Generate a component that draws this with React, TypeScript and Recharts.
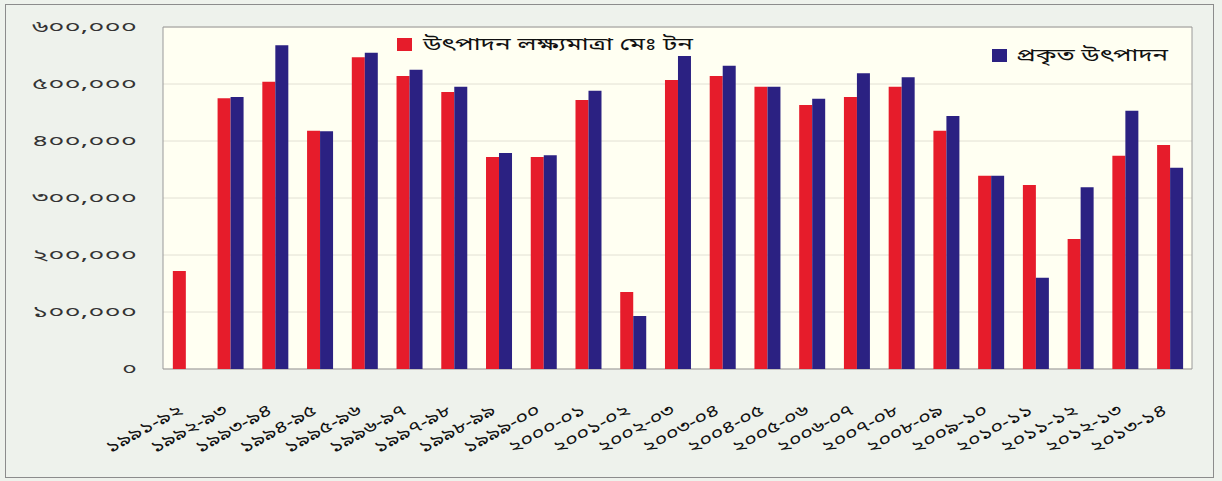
import React from "react";
import {
  BarChart,
  Bar,
  XAxis,
  YAxis,
  CartesianGrid,
  ReferenceArea,
} from "recharts";

const categories = [
  "১৯৯১-৯২", "১৯৯২-৯৩", "১৯৯৩-৯৪", "১৯৯৪-৯৫", "১৯৯৫-৯৬", "১৯৯৬-৯৭",
  "১৯৯৭-৯৮", "১৯৯৮-৯৯", "১৯৯৯-০০", "২০০০-০১", "২০০১-০২", "২০০২-০৩",
  "২০০৩-০৪", "২০০৪-০৫", "২০০৫-০৬", "২০০৬-০৭", "২০০৭-০৮", "২০০৮-০৯",
  "২০০৯-১০", "২০১০-১১", "২০১১-১২", "২০১২-১৩", "২০১৩-১৪",
];

// উৎপাদন লক্ষ্যমাত্রা (red)
const targetValues = [
  172000, 475000, 504000, 418000, 547000, 514000, 486000, 372000, 372000,
  472000, 135000, 507000, 514000, 495000, 463000, 477000, 495000, 418000,
  339000, 323000, 228000, 374000, 393000,
];

// প্রকৃত উৎপাদন (blue)
const actualValues = [
  0, 477000, 568000, 417000, 555000, 525000, 495000, 379000, 375000,
  488000, 93000, 549000, 532000, 495000, 474000, 519000, 512000, 444000,
  339000, 160000, 319000, 453000, 353000,
];

const yTicks = [0, 100000, 200000, 300000, 400000, 500000, 600000];

const seriesNames = ["উৎপাদন লক্ষ্যমাত্রা মেঃ টন", "প্রকৃত উৎপাদন"];
const seriesColors = ["#e61c2b", "#2b2182"];

const bnDigits = ["০", "১", "২", "৩", "৪", "৫", "৬", "৭", "৮", "৯"];
const toBn = (v: number) =>
  v
    .toLocaleString("en-US")
    .replace(/[0-9]/g, (d) => bnDigits[Number(d)]);

const data = categories.map((name, i) => ({
  name,
  target: targetValues[i],
  actual: actualValues[i],
}));

const FONT = "'Noto Sans Bengali', 'Lohit Bengali', 'Noto Sans', sans-serif";

const XTick = (props: any) => {
  const { x, y, payload } = props;
  return (
    <g transform={`translate(${x - 2},${y + 36})`}>
      <text
        textAnchor="end"
        transform="rotate(-29)"
        fontSize={17}
        fill="#111"
        fontFamily={FONT}
        textLength={84}
        lengthAdjust="spacingAndGlyphs"
      >
        {payload.value}
      </text>
    </g>
  );
};

const YTick = (props: any) => {
  const { x, y, payload } = props;
  const label = toBn(payload.value);
  return (
    <text
      x={x}
      y={y}
      dy={5}
      textAnchor="end"
      fontSize={16}
      fill="#333"
      fontFamily={FONT}
      textLength={label.length * 15}
      lengthAdjust="spacingAndGlyphs"
    >
      {label}
    </text>
  );
};

const App = () => {
  return (
    <div
      style={{
        position: "absolute",
        left: 0,
        top: 0,
        width: 1222,
        height: 481,
        background: "#eef2ec",
        fontFamily: FONT,
      }}
    >
      <div
        style={{
          position: "absolute",
          left: 5,
          top: 4,
          right: 8,
          bottom: 3,
          border: "1px solid #8c8c8c",
        }}
      />
      <BarChart
        width={1222}
        height={481}
        data={data}
        margin={{ top: 27, right: 30, bottom: 12, left: 0 }}
        barCategoryGap="22%"
        barGap={0}
      >
        <CartesianGrid vertical={false} stroke="#e2e0d4" fill="#fffff2" />
        <ReferenceArea
          y1={0}
          y2={600000}
          fill="none"
          stroke="#9a9a9a"
          strokeWidth={1}
        />
        <XAxis
          dataKey="name"
          interval={0}
          tick={<XTick />}
          tickLine={false}
          axisLine={false}
          height={100}
        />
        <YAxis
          type="number"
          domain={[0, 600000]}
          ticks={yTicks}
          width={163}
          tickSize={0}
          tickMargin={26}
          axisLine={false}
          tickLine={false}
          tick={<YTick />}
        />
        <Bar
          dataKey="target"
          name={seriesNames[0]}
          fill={seriesColors[0]}
          isAnimationActive={false}
        />
        <Bar
          dataKey="actual"
          name={seriesNames[1]}
          fill={seriesColors[1]}
          isAnimationActive={false}
        />
      </BarChart>
      <svg
        width={1222}
        height={481}
        style={{ position: "absolute", left: 0, top: 0, pointerEvents: "none" }}
      >
        <rect x={397} y={38} width={15} height={13} fill={seriesColors[0]} />
        <text
          x={423}
          y={50}
          fontSize={18}
          fill="#111"
          fontFamily={FONT}
          textLength={270}
          lengthAdjust="spacingAndGlyphs"
        >
          {seriesNames[0]}
        </text>
        <rect x={992} y={49} width={15} height={13} fill={seriesColors[1]} />
        <text
          x={1016}
          y={61}
          fontSize={18}
          fill="#111"
          fontFamily={FONT}
          textLength={152}
          lengthAdjust="spacingAndGlyphs"
        >
          {seriesNames[1]}
        </text>
      </svg>
    </div>
  );
};

export default App;
